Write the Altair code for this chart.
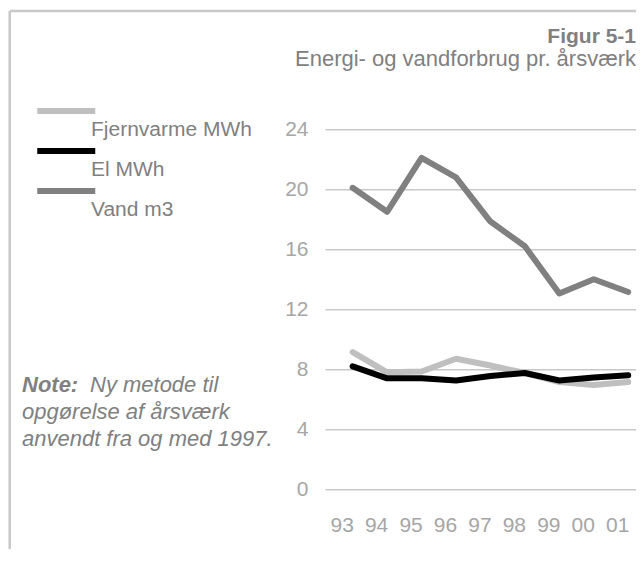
import altair as alt
import pandas as pd

FONT = "Liberation Sans"

years = ["93", "94", "95", "96", "97", "98", "99", "00", "01"]
fjernvarme = [9.15, 7.8, 7.85, 8.7, 8.25, 7.75, 7.15, 6.95, 7.15]
el = [8.2, 7.4, 7.4, 7.25, 7.55, 7.75, 7.25, 7.45, 7.6]
vand = [20.1, 18.5, 22.1, 20.8, 17.85, 16.2, 13.05, 14.0, 13.15]
series_names = ["Fjernvarme MWh", "El MWh", "Vand m3"]
series_colors = ["#bfbfbf", "#000000", "#808080"]
y_ticks = [0, 4, 8, 12, 16, 20, 24]

title_text = "Figur 5-1"
subtitle_text = "Energi- og vandforbrug pr. årsværk"
note_label = "Note:"
note_first = "Ny metode til"
note_line2 = "opgørelse af årsværk"
note_line3 = "anvendt fra og med 1997."

rows = []
for name, vals in zip(series_names, [fjernvarme, el, vand]):
    for yr, v in zip(years, vals):
        rows.append({"series": name, "year": yr, "value": v})
df = pd.DataFrame(rows)

TEXT_COLOR = "#808080"
AXIS_LABEL_COLOR = "#a6a6a6"
GRID_COLOR = "#c8c8c8"
FRAME_COLOR = "#c8c8c8"

lines = alt.Chart(df).mark_line(strokeWidth=6, strokeCap="round", strokeJoin="round").encode(
    x=alt.X(
        "year:O",
        sort=years,
        scale=alt.Scale(type="point", padding=0.515, align=0.78),
        axis=alt.Axis(
            title=None, labelAngle=0, labelFontSize=21, labelColor=AXIS_LABEL_COLOR,
            labelFont=FONT, labelPadding=36, translate=-10.5, domain=False, ticks=False,
            tickSize=0, grid=False,
        ),
    ),
    y=alt.Y(
        "value:Q",
        scale=alt.Scale(domain=[0, 24], nice=False),
        axis=alt.Axis(
            title=None, values=y_ticks, domain=False, ticks=False, tickSize=0,
            labelPadding=17, labelFontSize=21, labelColor=AXIS_LABEL_COLOR, labelFont=FONT,
            gridColor=GRID_COLOR, gridWidth=1.5,
        ),
    ),
    color=alt.Color(
        "series:N",
        scale=alt.Scale(domain=series_names, range=series_colors),
        legend=alt.Legend(
            title=None, orient="none", legendX=-260, legendY=-12.3,
            symbolType="M-4.075,-1.9H1.725", symbolSize=400, symbolStrokeWidth=6,
            labelFontSize=21, labelColor=TEXT_COLOR, labelFont=FONT,
            labelBaseline="middle", labelOffset=0, rowPadding=-1, labelLimit=400,
        ),
    ),
)

one = pd.DataFrame({"k": [0]})
frame_top = alt.Chart(one).mark_rule(color=FRAME_COLOR, strokeWidth=2.5).encode(
    x=alt.value(-315.3), x2=alt.value(330), y=alt.value(-118.3)
)
frame_left = alt.Chart(one).mark_rule(color=FRAME_COLOR, strokeWidth=2.5).encode(
    x=alt.value(-315.3), y=alt.value(-118.3), y2=alt.value(460)
)


def label(text, x, y, size=21, weight="normal", style="normal", align="left"):
    return alt.Chart(pd.DataFrame({"t": [text]})).mark_text(
        align=align, baseline="middle", fontSize=size, fontStyle=style, fontWeight=weight,
        color=TEXT_COLOR, font=FONT,
    ).encode(text="t:N", x=alt.value(x), y=alt.value(y))


title_a = label(title_text, 311, -91.8, size=21, weight="bold", align="right")
title_b = label(subtitle_text, 311, -69.8, size=22, align="right")
note_a = label(note_label, -303, 255.7, size=22, weight="bold", style="italic")
note_b = label(note_first, -235, 255.7, size=22, style="italic")
note_c = label(note_line2, -303, 282.7, size=22, style="italic")
note_d = label(note_line3, -303, 309.7, size=22, style="italic")

chart = alt.layer(
    frame_top, frame_left, title_a, title_b, note_a, note_b, note_c, note_d, lines
).properties(
    width=311,
    height=360,
    padding={"left": 317, "top": 121.3, "right": 0, "bottom": 60},
    autosize=alt.AutoSizeParams(type="none"),
).configure(font=FONT, background="white").configure_view(stroke=None)

chart.save("out.html", embed_options={"renderer": "svg", "actions": False})
